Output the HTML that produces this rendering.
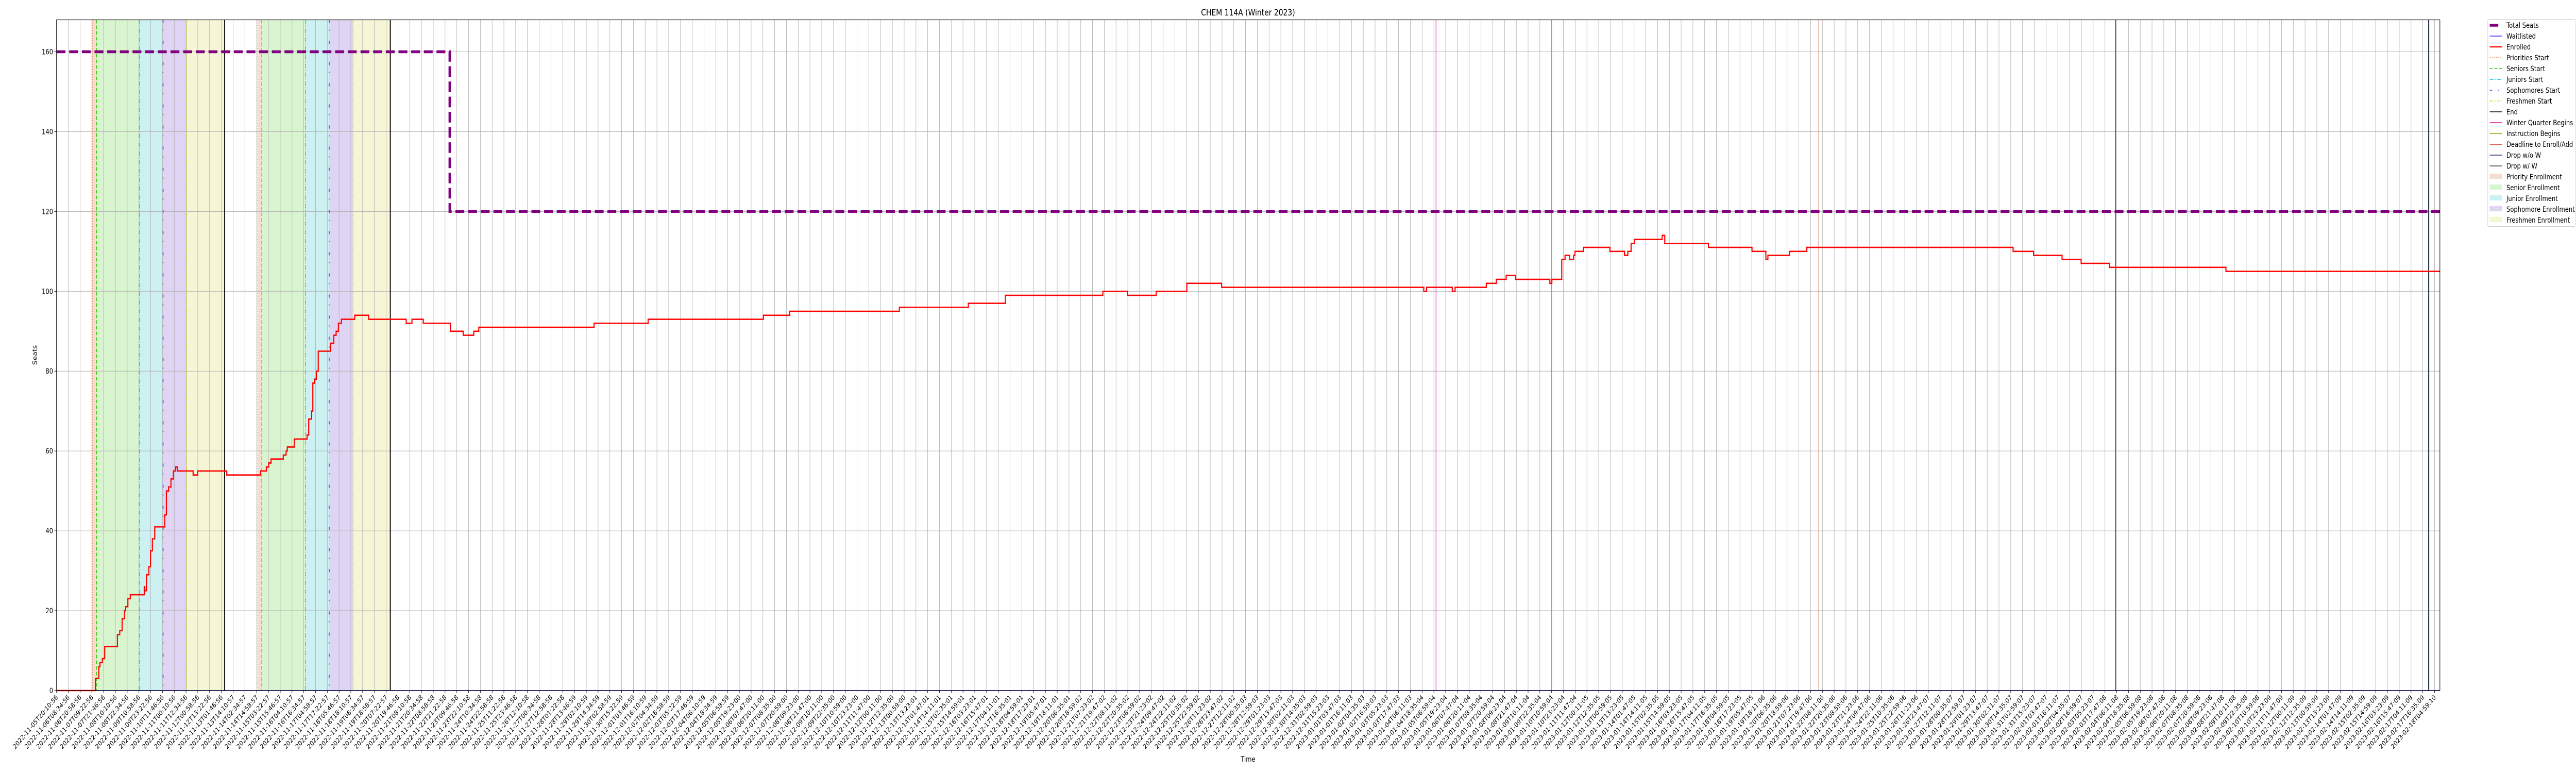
<!DOCTYPE html>
<html><head><meta charset="utf-8"><meta name="viewport" content="width=device-width, initial-scale=1"><title>CHEM 114A (Winter 2023)</title>
<style>
html,body{margin:0;padding:0;background:#fff;width:100%;height:100%;overflow:hidden;}
svg{display:block;width:100vw;height:100vh;overflow:hidden;font-family:"DejaVu Sans","Liberation Sans",sans-serif;}
</style></head>
<body>
<svg id="chart" viewBox="0 0 6000 1500" preserveAspectRatio="none" xmlns="http://www.w3.org/2000/svg">
  <rect x="0" y="0" width="6000" height="1500" fill="#fff"/>
  <g id="spans"></g>
  <g id="grid"></g>
  <g id="events"></g>
  <g id="series"></g>
  <g id="axes"></g>
  <text x="2907" y="30" font-size="16.7" text-anchor="middle">CHEM 114A (Winter 2023)</text>
  <text x="86" y="689" font-size="13.9" text-anchor="middle" transform="rotate(-90 86 689)">Seats</text>
  <text x="2907" y="1478" font-size="13.9" text-anchor="middle">Time</text>

  <g font-size="13.9">
    <rect x="5794.5" y="37.5" width="204" height="402" rx="3" fill="#fff" stroke="#d0d0d0"/>
    <g><line x1="5799" y1="49" x2="5819" y2="49" stroke="#800080" stroke-width="5.6"/><text x="5838" y="54">Total Seats</text></g>
    <g><line x1="5799" y1="70" x2="5828" y2="70" stroke="#0000ff" stroke-width="1.2"/><text x="5838" y="75">Waitlisted</text></g>
    <g><line x1="5799" y1="91" x2="5828" y2="91" stroke="#ff0000" stroke-width="2.2"/><text x="5838" y="96">Enrolled</text></g>
    <g><line x1="5799" y1="112" x2="5828" y2="112" stroke="#f06a3a" stroke-width="1.5" stroke-dasharray="2 3"/><text x="5838" y="117">Priorities Start</text></g>
    <g><line x1="5799" y1="133" x2="5828" y2="133" stroke="#33cc11" stroke-width="1.5" stroke-dasharray="7 4"/><text x="5838" y="138">Seniors Start</text></g>
    <g><line x1="5799" y1="154" x2="5828" y2="154" stroke="#00c8d2" stroke-width="1.5" stroke-dasharray="9 3 2 3"/><text x="5838" y="159">Juniors Start</text></g>
    <g><line x1="5799" y1="175" x2="5828" y2="175" stroke="#6622dd" stroke-width="1.5" stroke-dasharray="6 13 2 20"/><text x="5838" y="180">Sophomores Start</text></g>
    <g><line x1="5799" y1="196" x2="5828" y2="196" stroke="#dddd22" stroke-width="1.5" stroke-dasharray="7 2 2 2 2 2"/><text x="5838" y="201">Freshmen Start</text></g>
    <g><line x1="5799" y1="217" x2="5828" y2="217" stroke="#000" stroke-width="1.5"/><text x="5838" y="222">End</text></g>
    <g><line x1="5799" y1="238" x2="5828" y2="238" stroke="#e0109c" stroke-width="1.5"/><text x="5838" y="243">Winter Quarter Begins</text></g>
    <g><line x1="5799" y1="259" x2="5828" y2="259" stroke="#88aa11" stroke-width="1.5"/><text x="5838" y="264">Instruction Begins</text></g>
    <g><line x1="5799" y1="280" x2="5828" y2="280" stroke="#cc3a16" stroke-width="1.5"/><text x="5838" y="285">Deadline to Enroll/Add</text></g>
    <g><line x1="5799" y1="301" x2="5828" y2="301" stroke="#2a2a8e" stroke-width="1.5"/><text x="5838" y="306">Drop w/o W</text></g>
    <g><line x1="5799" y1="322" x2="5828" y2="322" stroke="#2e3b55" stroke-width="1.5"/><text x="5838" y="327">Drop w/ W</text></g>
    <g><rect x="5799" y="337" width="29" height="10" fill="#f6ddd0"/><text x="5838" y="348">Priority Enrollment</text></g>
    <g><rect x="5799" y="358" width="29" height="10" fill="#d8f5d0"/><text x="5838" y="369">Senior Enrollment</text></g>
    <g><rect x="5799" y="379" width="29" height="10" fill="#cdf0f2"/><text x="5838" y="390">Junior Enrollment</text></g>
    <g><rect x="5799" y="400" width="29" height="10" fill="#e0d4f4"/><text x="5838" y="411">Sophomore Enrollment</text></g>
    <g><rect x="5799" y="421" width="29" height="10" fill="#f6f6d6"/><text x="5838" y="432">Freshmen Enrollment</text></g>
  </g>
</svg>
<script>
// ---- data (x in tick-index units, y in seats) ----
const enrolledT = [0,3.30,3.59,3.69,3.89,4.09,5.17,5.37,5.57,5.77,5.87,6.06,6.26,7.45,7.50,7.64,7.84,7.98,8.14,8.34,9.19,9.33,9.52,9.72,9.92,10.11,10.25,11.60,11.99,14.46,17.33,17.82,18.02,18.22,19.26,19.50,19.60,20.19,21.28,21.42,21.67,21.77,21.91,22.07,22.23,23.26,23.55,23.75,23.94,24.20,25.33,26.51,29.70,30.19,31.15,33.45,34.54,35.44,35.87,45.66,50.25,60.04,62.28,71.59,77.45,80.60,88.88,90.99,93.41,96.01,98.97,116.14,116.38,118.56,118.80,121.45,122.30,123.14,123.93,126.85,127.02,127.86,128.14,128.53,128.87,128.98,129.71,131.95,133.19,133.47,133.75,134.03,136.39,136.61,140.32,144.02,145.20,145.37,147.22,148.68,166.20,167.94,170.36,171.98,174.40,184.28];
const enrolledV = [0,3,6,7,8,11,14,15,18,20,21,23,24,26,25,29,31,35,38,41,44,50,51,53,55,56,55,54,55,54,55,56,57,58,59,60,61,63,64,68,70,77,78,80,85,87,89,90,92,93,94,93,92,93,92,90,89,90,91,92,93,94,95,96,97,99,100,99,100,102,101,100,101,100,101,102,103,104,103,102,103,108,109,108,109,110,111,110,109,110,112,113,114,112,111,110,108,109,110,111,110,109,108,107,106,105];
const totalSeatsT = [0,33.4];
const totalSeatsV = [160,120];
const waitlistT = [3.30];
const waitlistV = [0];
const spanStarts = [3.04,3.40,7.03,9.05,11.06,17.09,17.44,21.14,23.16,25.19];
const spanEnds   = [3.40,7.03,9.05,11.06,14.28,17.44,21.14,23.16,25.19,28.35];
const spanKinds  = ["priority","senior","junior","sophomore","freshmen","priority","senior","junior","sophomore","freshmen"];
const eventT     = [3.04,3.40,7.03,9.05,11.06,14.28,17.09,17.44,21.14,23.16,25.19,28.35,117.18,127.0,149.7,174.9,201.5];
const eventKinds = ["priorities-start","seniors-start","juniors-start","sophomores-start","freshmen-start","end","priorities-start","seniors-start","juniors-start","sophomores-start","freshmen-start","end","winter-quarter-begins","instruction-begins","deadline","drop-without-w","drop-with-w"];
const yTicks = [0,20,40,60,80,100,120,140,160];
const tickCount = 203;
const tickStartLabel = "2022-11-05T20:10:56";
const tickEndLabel = "2023-02-18T04:59:10";

// ---- layout ----
const L=131.7, R=5683, T=38.5, B=1340, STEP=27.42, YMAX=168;
const xs = t => L + t*STEP;
const ys = v => B - v*(B-T)/YMAX;
const tMax = (R-L)/STEP;
const NS="http://www.w3.org/2000/svg";
function mk(tag, parent, attrs){const e=document.createElementNS(NS,tag);for(const k in attrs)e.setAttribute(k,attrs[k]);parent.appendChild(e);return e;}

const spanFill={priority:"#f6ddd0",senior:"#d8f5d0",junior:"#cdf0f2",sophomore:"#e0d4f4",freshmen:"#f6f6d6"};
const evStyle={
 "priorities-start":["#f06a3a",1.5,"2 3"],
 "seniors-start":["#33cc11",1.8,"7 4"],
 "juniors-start":["#00c8d2",1.5,"9 3 2 3"],
 "sophomores-start":["#6622dd",1.8,"6 13 2 20"],
 "freshmen-start":["#dddd22",1.5,"7 2 2 2 2 2"],
 "end":["#000",2.2,""],
 "winter-quarter-begins":["#e0109c",1.3,""],
 "instruction-begins":["#88aa11",1.3,""],
 "deadline":["#cc3a16",1.3,""],
 "drop-without-w":["#2a2a8e",1.5,""],
 "drop-with-w":["#2e3b55",2.6,""]
};

const gSp=document.getElementById("spans");
for(let i=0;i<spanStarts.length;i++){
  const r=mk("rect",gSp,{x:xs(spanStarts[i]),y:T,width:xs(spanEnds[i])-xs(spanStarts[i]),height:B-T,fill:spanFill[spanKinds[i]]});
  
  
}

const gGrid=document.getElementById("grid");
const gAx=document.getElementById("axes");
const t0=Date.parse(tickStartLabel+"Z"), t1=Date.parse(tickEndLabel+"Z");
for(let i=0;i<tickCount;i++){
  const x=xs(i);
  if(x>R+0.5)break;
  const gl=mk("line",gGrid,{x1:x,y1:T,x2:x,y2:B,stroke:"#b0b0b0","stroke-width":1});
  
  
  const tk=mk("line",gAx,{x1:x,y1:B,x2:x,y2:B+5,stroke:"#000","stroke-width":1});
  
  
  const d=new Date(t0+(t1-t0)*i/(tickCount-1));
  const lab=d.toISOString().slice(0,19);
  const tx=mk("text",gAx,{x:x+4,y:B+14,"font-size":13,"text-anchor":"end",transform:`rotate(-45 ${x+4} ${B+14})`});
  tx.textContent=lab;
  
  
}
for(const v of yTicks){
  const y=ys(v);
  const gl=mk("line",gGrid,{x1:L,y1:y,x2:R,y2:y,stroke:"#b0b0b0","stroke-width":1});
  
  
  const tk=mk("line",gAx,{x1:L-5,y1:y,x2:L,y2:y,stroke:"#000","stroke-width":1});
  
  
  const tx=mk("text",gAx,{x:L-8,y:y+5,"font-size":13.9,"text-anchor":"end"});
  tx.textContent=String(v);
  
  
}
const frame=mk("rect",gAx,{x:L,y:T,width:R-L,height:B-T,fill:"none",stroke:"#000","stroke-width":1.2});



const gEv=document.getElementById("events");
for(let i=0;i<eventT.length;i++){
  const s=evStyle[eventKinds[i]], x=xs(eventT[i]);
  const a={x1:x,y1:T,x2:x,y2:B,stroke:s[0],"stroke-width":s[1]};
  if(s[2])a["stroke-dasharray"]=s[2];
  const ln=mk("line",gEv,a);
  
  
}

function stepPath(ts,vs,tEnd){
  let d=`M${xs(ts[0])},${ys(vs[0])}`;
  for(let i=1;i<ts.length;i++){d+=` H${xs(ts[i])} V${ys(vs[i])}`;}
  d+=` H${xs(tEnd)}`;
  return d;
}
const gS=document.getElementById("series");
const ts=mk("path",gS,{d:stepPath(totalSeatsT,totalSeatsV,tMax),fill:"none",stroke:"#800080","stroke-width":5.6,"stroke-dasharray":"20.6 8.9"});


const en=mk("path",gS,{d:stepPath(enrolledT,enrolledV,tMax),fill:"none",stroke:"#ff0000","stroke-width":2.6,"stroke-linejoin":"miter"});


const wl=mk("path",gS,{d:stepPath(waitlistT,waitlistV,tMax),fill:"none",stroke:"#0000ff","stroke-width":1.6});


</script>
</body></html>
